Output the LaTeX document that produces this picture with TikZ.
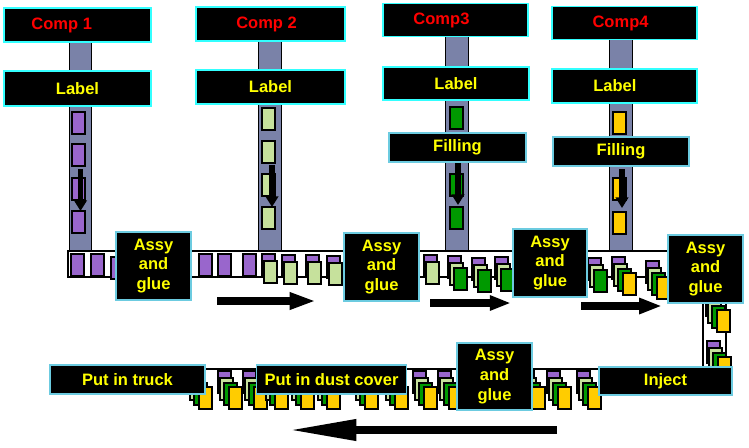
\documentclass[tikz,border=0pt]{standalone}
\usepackage{fontspec}
\setmainfont{Liberation Sans}
\usetikzlibrary{arrows.meta}
\definecolor{beltgrey}{HTML}{7A82A8}
\definecolor{boxcyan}{HTML}{33FFFF}
\definecolor{boxblue}{HTML}{6CCBE0}
\definecolor{partpurple}{HTML}{9966CC}
\definecolor{partlime}{HTML}{C6E19C}
\definecolor{partgreen}{HTML}{009900}
\definecolor{partgold}{HTML}{FFCC00}
\definecolor{textred}{HTML}{FF0000}
\definecolor{textyellow}{HTML}{FFFF00}
\newcommand{\shiftedtext}[2]{#2\hspace*{#1}}
\newcommand{\partstack}[3]{% x, y, number of layers
  \foreach \col/\dx/\dy [count=\n] in {partpurple/0/0, partlime/2/7, partgreen/6/12, partgold/11/16}{%
    \ifnum\n>#3\relax\else
      \draw[part, fill=\col] (#1+\dx,#2+\dy) rectangle ++(13,22);
    \fi}%
}

\begin{document}
\begin{tikzpicture}[x=0.02cm, y=-0.02cm,
    boxfont/.style={font=\fontsize{9.4}{11.3}\selectfont\bfseries},
    size/.style 2 args={minimum width=#1*0.02cm, minimum height=#2*0.02cm},
    compbox/.style={draw=boxcyan, fill=black, line width=0.8pt, text=textred, boxfont, inner sep=0pt},
    labelbox/.style={compbox, text=textyellow},
    stepbox/.style={draw=boxblue, fill=black, line width=0.8pt, text=textyellow, boxfont, inner sep=0pt, align=center},
    part/.style={draw=black, line width=0.6pt},
    column/.style={draw=black, fill=beltgrey, line width=0.5pt},
    beltline/.style={draw=black, line width=0.6pt},
    feedarrow/.style={line width=3.4pt, -{Triangle[length=6pt, width=7pt]}},
    flowarrow/.style 2 args={line width=4.5pt, -{Triangle[length=#1, width=#2]}}]
    \useasboundingbox (0,0) rectangle (749,447);

    % feed columns
    \draw[column] (69,42) rectangle (91,251);
    \draw[column] (258,41) rectangle (281,251);
    \draw[column] (445,36) rectangle (468,251);
    \draw[column] (609,39) rectangle (632,251);

    % conveyors
    \draw[beltline, fill=white] (668,251) -- (68,251) -- (68,277) -- (668,277);
    \draw[beltline] (703,300) -- (703,367);
    \draw[beltline] (726,303) -- (726,367);
    \draw[beltline] (205,369) -- (600,369);

    % parts on the conveyors
    \foreach \x/\y/\k in {71/254/1, 91/254/1, 111/257/1,
        199/254/1, 218/254/1, 243/254/1, 262/254/2, 282/255/2, 306/255/2, 327/256/2,
        424/255/2, 448/256/3, 472/258/3, 495/257/3,
        588/258/3, 612/257/4, 646/261/4,
        706/294/4, 707/341/4}
      \partstack{\x}{\y}{\k};
    \foreach \x in {188,218,243,264,290,316,354,384,413,438,470,500,521,547,577}
      \partstack{\x}{371}{4};

    % parts in the columns
    \foreach \y in {112,144,178,211}
      \draw[part, fill=partpurple] (72,\y) rectangle ++(13,22);
    \foreach \y in {108,141,174,207}
      \draw[part, fill=partlime] (262,\y) rectangle ++(13,22);
    \foreach \y in {107,174,207}
      \draw[part, fill=partgreen] (450,\y) rectangle ++(13,22);
    \foreach \y in {112,178,212}
      \draw[part, fill=partgold] (613,\y) rectangle ++(13,22);

    % feed arrows
    \coordinate (drop1s) at (80.5,169); \coordinate (drop1e) at (80.5,211);
    \coordinate (drop2s) at (272,165);  \coordinate (drop2e) at (272,207);
    \coordinate (drop3s) at (458,163);  \coordinate (drop3e) at (458,205);
    \coordinate (drop4s) at (622,169);  \coordinate (drop4e) at (622,208);
    \foreach \i in {1,...,4}
      \draw[feedarrow] (drop\i s) -- (drop\i e);

    % component and label boxes
    \node[compbox, size={147}{34}] (comp1) at (77.5,25) {\shiftedtext{18pt}{Comp 1}};
    \node[labelbox, size={147}{35}] (label1) at (77.5,88.5) {Label};
    \node[compbox, size={149}{34}] (comp2) at (270.5,24) {\shiftedtext{4.5pt}{Comp 2}};
    \node[labelbox, size={149}{34}] (label2) at (270.5,87) {Label};
    \node[compbox, size={145}{33}] (comp3) at (455.5,20) {\shiftedtext{16pt}{Comp3}};
    \node[labelbox, size={146}{33}] (label3) at (456,83.5) {Label};
    \node[stepbox, size={137}{29}] (fill3) at (457.5,147.5) {Filling};
    \node[compbox, size={145}{33}] (comp4) at (624.5,23) {\shiftedtext{4.5pt}{Comp4}};
    \node[labelbox, size={145}{34}] (label4) at (624.5,86) {\shiftedtext{11pt}{Label}};
    \node[stepbox, size={136}{29}] (fill4) at (621,151.5) {Filling};

    % process stations
    \node[stepbox, size={75}{68}] (assy1) at (153.5,266) {Assy\\and\\glue};
    \node[stepbox, size={75}{68}] (assy2) at (381.5,267) {Assy\\and\\glue};
    \node[stepbox, size={74}{68}] (assy3) at (550,263) {Assy\\and\\glue};
    \node[stepbox, size={75}{68}] (assy4) at (705.5,269) {Assy\\and\\glue};
    \node[stepbox, size={75}{67}] (assy5) at (494.5,376.5) {Assy\\and\\glue};
    \node[stepbox, size={155}{29}] (truck) at (127.5,379.5) {Put in truck};
    \node[stepbox, size={150}{29}] (dustcover) at (331.5,379.5) {Put in dust cover};
    \node[stepbox, size={133}{28}] (inject) at (665.5,381) {Inject};

    % flow direction
    \coordinate (flow1s) at (217,301); \coordinate (flow1e) at (316,301);
    \coordinate (flow2s) at (430,303); \coordinate (flow2e) at (511,303);
    \coordinate (flow3s) at (581,306); \coordinate (flow3e) at (662,306);
    \coordinate (backs) at (557,430);  \coordinate (backe) at (286,430);
    \draw[flowarrow={15pt}{9pt}] (flow1s) -- (flow1e);
    \draw[flowarrow={12pt}{8pt}] (flow2s) -- (flow2e);
    \draw[flowarrow={13pt}{8.5pt}] (flow3s) -- (flow3e);
    \draw[flowarrow={40pt}{11pt}, line width=5pt] (backs) -- (backe);
\end{tikzpicture}
\end{document}
